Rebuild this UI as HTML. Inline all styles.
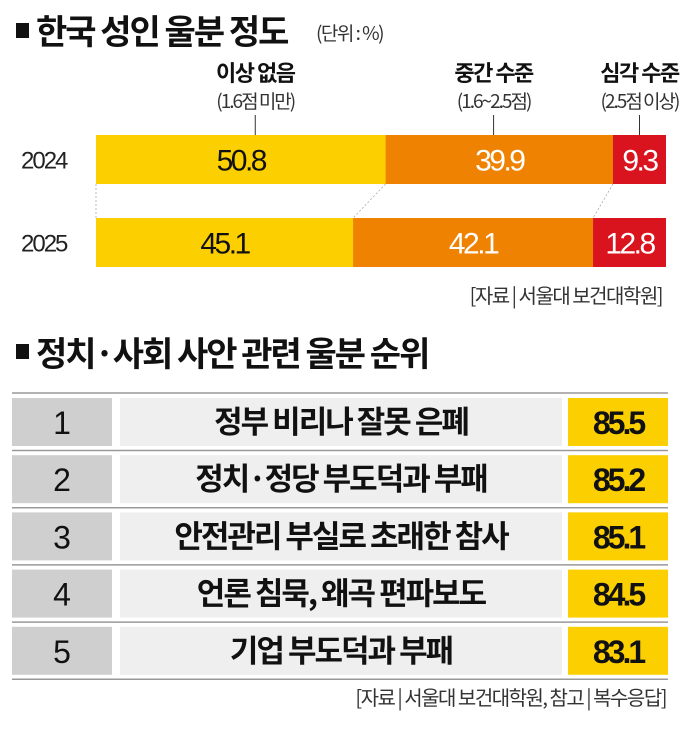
<!DOCTYPE html>
<html><head><meta charset="utf-8"><style>
body{margin:0;background:#fff}
svg{display:block}
text{font-family:"Liberation Sans","Noto Sans CJK KR",sans-serif}
.k{font-family:"Noto Sans CJK KR","Liberation Sans",sans-serif}
</style></head><body>
<svg id="c" width="684" height="734" viewBox="0 0 684 734">
<rect x="16" y="23" width="13" height="15" fill="#111"/>
<text class="k" x="36" y="44" font-size="34" font-weight="700" letter-spacing="-2" fill="#111">한국 성인 울분 정도</text>
<text class="k" x="316" y="40" font-size="19" letter-spacing="-1.5" fill="#333">(단위 : %)</text>
<g id="bars"></g>
<text class="k" x="662" y="303" text-anchor="end" font-size="20" letter-spacing="-1.5" fill="#333">[자료 | 서울대 보건대학원]</text>
<rect x="16" y="344" width="13" height="15" fill="#111"/>
<text class="k" x="36" y="366" font-size="34" font-weight="700" letter-spacing="-2" fill="#111">정치·사회 사안 관련 울분 순위</text>
<g id="rank"></g>
<text class="k" x="666" y="705" text-anchor="end" font-size="20" letter-spacing="-1.5" fill="#333">[자료 | 서울대 보건대학원, 참고 | 복수응답]</text>
</svg>
<script>
const years=["2024","2025"];
const noneVals=[50.8,45.1];
const midVals=[39.9,42.1];
const severeVals=[9.3,12.8];
const catNames=["이상 없음","중간 수준","심각 수준"];
const catRanges=["(1.6점 미만)","(1.6~2.5점)","(2.5점 이상)"];
const ranks=["1","2","3","4","5"];
const issues=["정부 비리나 잘못 은폐","정치·정당 부도덕과 부패","안전관리 부실로 초래한 참사","언론 침묵, 왜곡 편파보도","기업 부도덕과 부패"];
const scores=[85.5,85.2,85.1,84.5,83.1];

const NS="http://www.w3.org/2000/svg";
function mk(t,a,p,txt){const e=document.createElementNS(NS,t);for(const k in a)e.setAttribute(k,a[k]);if(txt!==undefined)e.textContent=txt;p.appendChild(e);return e;}
const x0=96,x1=666;
const xs=v=>x0+(x1-x0)*v/100;
const rowY=[135,218],bh=49;
const colors=["#fccf00","#ef8200","#d9141e"];
const txtColors=["#111","#fff","#fff"];
const g=document.getElementById('bars');
const series=[noneVals,midVals,severeVals];
for(let s=0;s<2;s++){
  let c0=0,c1=0;for(let j=0;j<=s;j++){c0+=series[j][0];c1+=series[j][1];}
  const ln=mk('line',{x1:xs(c0),y1:rowY[0]+bh,x2:xs(c1),y2:rowY[1],stroke:'#aaa','stroke-width':0.8,'stroke-dasharray':'2,2'},g);
  
  
}
const ln0=mk('line',{x1:x0,y1:rowY[0]+bh,x2:x0,y2:rowY[1],stroke:'#aaa','stroke-width':0.8,'stroke-dasharray':'2,2'},g);


years.forEach((yr,i)=>{
  const yl=mk('text',{x:21,y:rowY[i]+bh/2+9,'font-size':24,fill:'#222','letter-spacing':-2},g,yr);
  
  
  let cum=0;
  series.forEach((arr,s)=>{
    const v=arr[i];
    const r=mk('rect',{x:xs(cum),y:rowY[i],width:xs(cum+v)-xs(cum),height:bh,fill:colors[s]},g);
    
    
    const t=mk('text',{x:(xs(cum)+xs(cum+v))/2,y:rowY[i]+bh/2+11,'text-anchor':'middle','font-size':30,fill:txtColors[s],'letter-spacing':-2.5},g,v.toFixed(1));
    
    
    if(i===0){
      const cx=(s===0)?xs(cum+v*0.55):(s===1?xs(cum+v*0.475):xs(cum+v/2));
      const a=mk('text',{x:cx,y:81,'text-anchor':'middle','font-size':22,'font-weight':700,fill:'#111','letter-spacing':-1.5,class:'k'},g,catNames[s]);
      
      
      const b=mk('text',{x:cx,y:108,'text-anchor':'middle','font-size':19,fill:'#333','letter-spacing':-2,class:'k'},g,catRanges[s]);
      
      
      const l=mk('line',{x1:cx,y1:115,x2:cx,y2:rowY[0],stroke:'#333','stroke-width':1},g);
      
      
    }
    cum+=v;
  });
});
const rg=document.getElementById('rank');
const top0=398,pitch=57.2,rh=48;
const tl=mk('line',{x1:12,y1:top0-5,x2:668,y2:top0-5,stroke:'#999','stroke-width':1.5},rg);


ranks.forEach((r,i)=>{
  const y=top0+i*pitch;
  const a=mk('rect',{x:12,y:y,width:100,height:rh,fill:'#cfcfcf'},rg);
  
  
  const b=mk('rect',{x:120,y:y,width:442,height:rh,fill:'#efefef'},rg);
  
  
  const c=mk('rect',{x:568,y:y,width:100,height:rh,fill:'#fccf00'},rg);
  
  
  const t1=mk('text',{x:62,y:y+rh/2+12,'text-anchor':'middle','font-size':32,fill:'#111'},rg,r);
  
  
  const t2=mk('text',{x:341,y:y+rh/2+11,'text-anchor':'middle','font-size':31,'font-weight':700,fill:'#111','letter-spacing':-2,class:'k'},rg,issues[i]);
  
  
  const t3=mk('text',{x:618,y:y+rh/2+12,'text-anchor':'middle','font-size':32,'font-weight':700,fill:'#111','letter-spacing':-3},rg,scores[i].toFixed(1));
  
  
  const l=mk('line',{x1:12,y1:y+rh+4.5,x2:668,y2:y+rh+4.5,stroke:'#999','stroke-width':1.5},rg);
  
  
});
</script>
</body></html>
